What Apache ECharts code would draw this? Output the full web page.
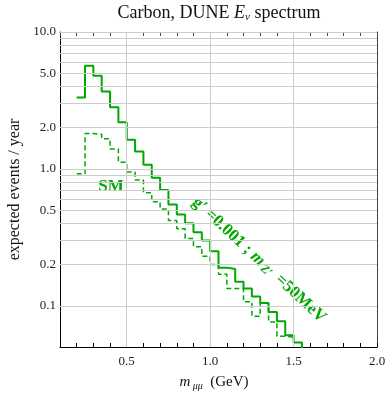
<!DOCTYPE html>
<html>
<head>
<meta charset="utf-8">
<script src="https://cdn.jsdelivr.net/npm/echarts@6/dist/echarts.min.js"></script>
<style>
  html, body { margin: 0; padding: 0; background: #fff; }
  #chart { width: 387px; height: 394px; }
</style>
</head>
<body>
<div id="chart"></div>
<script>
// bin lower edges in GeV (width 0.05)
var binEdges = [0.20, 0.25, 0.30, 0.35, 0.40, 0.45, 0.50, 0.55, 0.60, 0.65,
                0.70, 0.75, 0.80, 0.85, 0.90, 0.95, 1.00, 1.05, 1.10, 1.15,
                1.20, 1.25, 1.30, 1.35, 1.40, 1.45, 1.50, 1.55];
// g' = 0.001, m_Z' = 50 MeV (solid)
var zprimeValues = [3.33, 5.66, 4.79, 3.68, 2.82, 2.19, 1.63, 1.34, 1.07, 0.86,
                    0.70, 0.55, 0.465, 0.40, 0.345, 0.30, 0.25, 0.19, 0.186, 0.15,
                    0.134, 0.117, 0.105, 0.09, 0.077, 0.061, 0.054, 0.04];
// SM (dashed)
var smValues = [0.92, 1.81, 1.79, 1.66, 1.40, 1.12, 0.95, 0.83, 0.67, 0.575,
                0.51, 0.42, 0.365, 0.31, 0.27, 0.23, 0.20, 0.17, 0.134, 0.134,
                0.107, 0.084, 0.105, 0.076, 0.06, 0.059, 0.059];

var yTicks = [0.1, 0.2, 0.5, 1, 2, 5, 10];
var xLabels = [0.5, 1.0, 1.5, 2.0];
var hGrid = [0.1, 0.2, 0.3, 0.4, 0.5, 0.6, 0.7, 0.8, 0.9, 1, 2, 3, 4, 5, 6, 7, 8, 9, 10];
var vGrid = [0.5, 1.0, 1.5];

var X_MIN = 0.1, X_MAX = 2.0, Y_MIN = 0.05, Y_MAX = 10;
var GREEN = '#00a800';
var FONT = 'Liberation Serif';

function pairs(edges, vals) {
    var out = [];
    for (var i = 0; i < vals.length; i++) out.push([edges[i], vals[i]]);
    return out;
}

var chart = echarts.init(document.getElementById('chart'));

// y tick/label axes work in log10 space so 0.2, 0.5, 2, 5 can be labelled
var tickAxis = function (pos, showLabel, lineColor) {
    return {
        type: 'value',
        position: pos,
        min: Math.log10(Y_MIN),
        max: Math.log10(Y_MAX),
        name: showLabel ? 'expected events / year' : '',
        nameLocation: 'middle',
        nameGap: 36,
        nameTextStyle: { fontFamily: FONT, fontSize: 16, color: '#111' },
        axisLine: { show: true, onZero: false, lineStyle: { color: lineColor, width: 1 } },
        axisTick: {
            show: true, inside: true, length: 5,
            customValues: yTicks.map(Math.log10),
            lineStyle: { color: lineColor }
        },
        axisLabel: {
            show: showLabel,
            customValues: yTicks.map(Math.log10),
            formatter: function (v) { return Math.pow(10, v).toFixed(1); },
            fontFamily: FONT, fontSize: 13, color: '#222', margin: 4
        },
        splitLine: { show: false }
    };
};

var xAxisBase = function (pos, showLabel, lineColor) {
    return {
        type: 'value',
        position: pos,
        min: X_MIN,
        max: X_MAX,
        interval: 0.1,
        axisLine: { show: true, onZero: false, lineStyle: { color: lineColor, width: 1 } },
        axisTick: { show: true, inside: true, length: 4, lineStyle: { color: lineColor } },
        axisLabel: {
            show: showLabel,
            customValues: xLabels,
            formatter: function (v) { return v.toFixed(1); },
            fontFamily: FONT, fontSize: 13, color: '#222', margin: 8
        },
        splitLine: { show: false }
    };
};

var option = {
    animation: false,
    backgroundColor: '#fff',
    grid: { left: 60, right: 10, top: 32, bottom: 47, containLabel: false, outerBoundsMode: 'none' },
    xAxis: [xAxisBase('bottom', true, '#000'), xAxisBase('top', false, '#444')],
    yAxis: [
        {
            type: 'log', min: Y_MIN, max: Y_MAX, logBase: 10,
            axisLine: { show: false }, axisTick: { show: false },
            axisLabel: { show: false }, splitLine: { show: false }
        },
        tickAxis('left', true, '#000'),
        tickAxis('right', false, '#444')
    ],
    graphic: [
        {
            type: 'text', x: 219, y: 13,
            style: {
                text: '{a|Carbon, DUNE }{e|E}{s|ν}{a| spectrum}',
                align: 'center', verticalAlign: 'middle',
                rich: {
                    a: { fontFamily: FONT, fontSize: 18, fill: '#111', lineHeight: 20 },
                    e: { fontFamily: FONT, fontSize: 18, fontStyle: 'italic', fill: '#111', lineHeight: 20 },
                    s: { fontFamily: FONT, fontSize: 11, fontStyle: 'italic', fill: '#111', lineHeight: 8, verticalAlign: 'bottom' }
                }
            }
        },
        {
            type: 'text', x: 214, y: 382,
            style: {
                text: '{i|m}{s| μμ}{a|  (GeV)}',
                align: 'center', verticalAlign: 'middle',
                rich: {
                    i: { fontFamily: FONT, fontStyle: 'italic', fontSize: 15, fill: '#111', lineHeight: 18 },
                    s: { fontFamily: FONT, fontStyle: 'italic', fontSize: 10, fill: '#111', lineHeight: 8, verticalAlign: 'bottom' },
                    a: { fontFamily: FONT, fontSize: 15, fill: '#111', lineHeight: 18 }
                }
            }
        },
        {
            type: 'text', x: 111, y: 187,
            style: {
                text: 'SM', align: 'center', verticalAlign: 'middle',
                fontFamily: FONT, fontSize: 17, fontWeight: 'bold', fill: GREEN
            }
        },
        {
            type: 'text', x: 259, y: 260, rotation: -0.75,
            style: {
                text: '{b|g′ =0.001 ; }{i|m}{s|Z′}{b| =50MeV}',
                align: 'center', verticalAlign: 'middle',
                rich: {
                    b: { fontFamily: FONT, fontSize: 17, fontWeight: 'bold', fill: GREEN, lineHeight: 18 },
                    i: { fontFamily: FONT, fontSize: 17, fontWeight: 'bold', fontStyle: 'italic', fill: GREEN, lineHeight: 18 },
                    s: { fontFamily: FONT, fontSize: 12, fontWeight: 'bold', fill: GREEN, lineHeight: 8, verticalAlign: 'bottom', padding: [0, 3, 0, 2] }
                }
            }
        }
    ],
    series: [
        {
            name: 'grid',
            type: 'line',
            xAxisIndex: 0, yAxisIndex: 0,
            data: [[X_MIN, 1]],
            symbol: 'none',
            lineStyle: { opacity: 0 },
            z: 1,
            markLine: {
                silent: true, symbol: 'none', animation: false,
                label: { show: false },
                lineStyle: { color: '#cccccc', width: 1, type: 'solid' },
                data: hGrid.map(function (v) { return { yAxis: v }; })
                      .concat(vGrid.map(function (v) { return { xAxis: v }; }))
            }
        },
        {
            name: 'SM',
            type: 'line',
            xAxisIndex: 0, yAxisIndex: 0,
            step: 'end',
            data: pairs(binEdges, smValues),
            symbol: 'none',
            lineStyle: { color: GREEN, width: 1.5, type: [5, 3] },
            z: 3
        },
        {
            name: "g'=0.001; mZ'=50MeV",
            type: 'line',
            xAxisIndex: 0, yAxisIndex: 0,
            step: 'end',
            data: pairs(binEdges, zprimeValues),
            symbol: 'none',
            lineStyle: { color: GREEN, width: 2 },
            z: 4
        }
    ]
};

chart.setOption(option);
</script>
</body>
</html>
